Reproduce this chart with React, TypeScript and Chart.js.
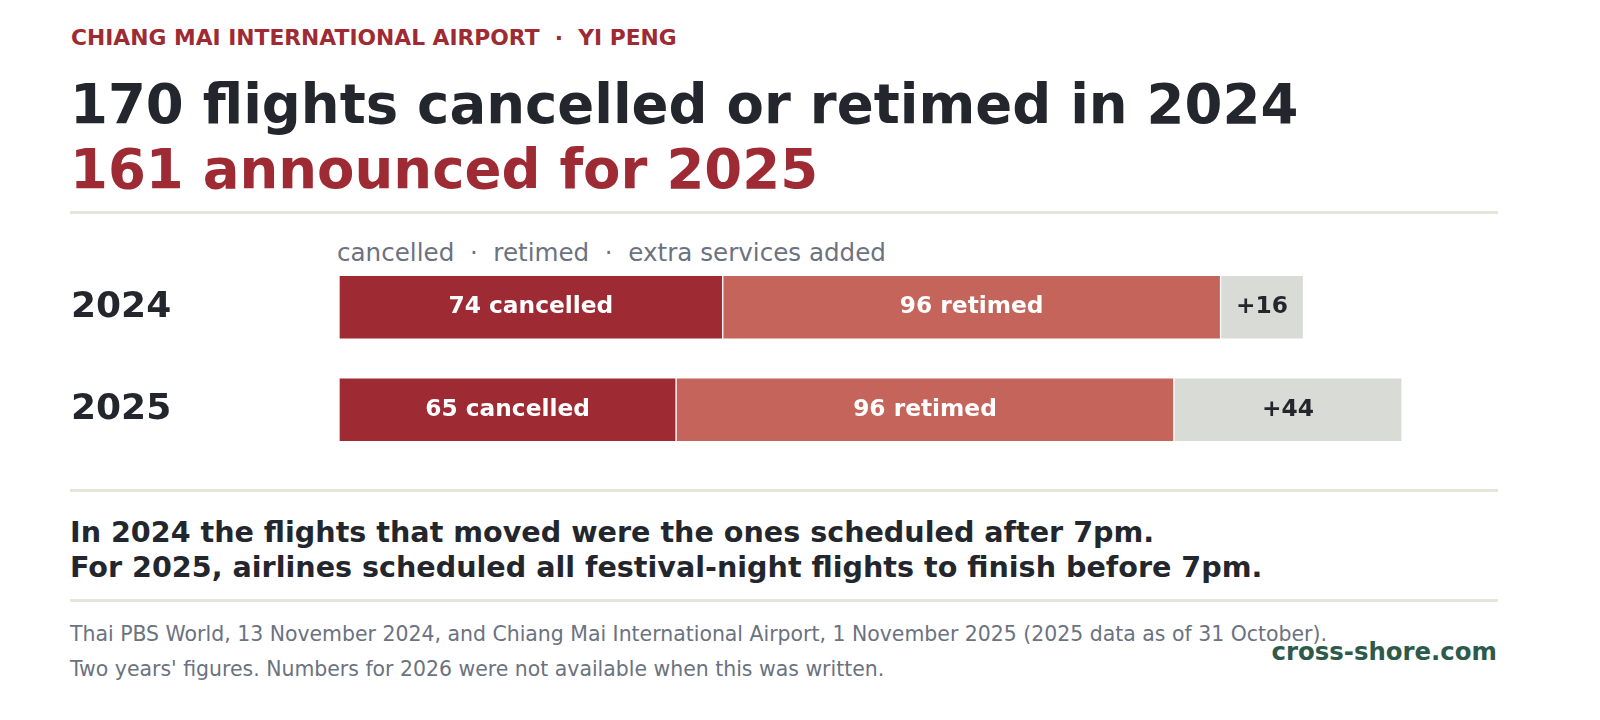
import { useEffect, useRef } from "react";
import { Chart, registerables } from "chart.js";

Chart.register(...registerables);

const YEARS = ["2024", "2025"];
const CANCELLED = [74, 65];
const RETIMED = [96, 96];
const EXTRA = [16, 44];
const X_MAX = 223.5;

const FONT = "'DejaVu Sans', Verdana, sans-serif";
const DARK = "#23272d";
const RED = "#9e2a33";
const GREY = "#6b7280";

const segmentLabels = {
  id: "segmentLabels",
  afterDatasetsDraw(chart: Chart) {
    const { ctx } = chart;
    ctx.save();
    ctx.font = `bold 23.3px ${FONT}`;
    ctx.textAlign = "center";
    ctx.textBaseline = "middle";
    chart.data.datasets.forEach((ds: any, di: number) => {
      const meta = chart.getDatasetMeta(di);
      meta.data.forEach((bar: any, i: number) => {
        const v = ds.data[i] as number;
        let text = "";
        if (di === 0) text = `${v} cancelled`;
        else if (di === 1) text = `${v} retimed`;
        else text = `+${v}`;
        ctx.fillStyle = di === 2 ? DARK : "#ffffff";
        ctx.fillText(text, (bar.x + bar.base) / 2, bar.y);
      });
    });
    ctx.restore();
  },
};

function FlightsChart() {
  const canvasRef = useRef<HTMLCanvasElement>(null);

  useEffect(() => {
    if (!canvasRef.current) return;
    const ctx = canvasRef.current.getContext("2d");
    if (!ctx) return;

    const common = {
      borderColor: "#ffffff",
      borderWidth: 1,
      borderSkipped: false as const,
      barThickness: 64,
    };

    const chart = new Chart(ctx, {
      type: "bar",
      data: {
        labels: YEARS,
        datasets: [
          { label: "cancelled", data: CANCELLED, backgroundColor: "#9e2a33", ...common },
          { label: "retimed", data: RETIMED, backgroundColor: "#c4645b", ...common },
          { label: "extra services added", data: EXTRA, backgroundColor: "#d9dbd6", ...common },
        ],
      },
      options: {
        indexAxis: "y",
        animation: false,
        responsive: true,
        maintainAspectRatio: false,
        layout: { padding: 0 },
        plugins: {
          legend: { display: false },
          tooltip: { enabled: false },
        },
        scales: {
          x: {
            stacked: true,
            display: false,
            min: 0,
            max: X_MAX,
          },
          y: {
            stacked: true,
            grid: { display: false },
            border: { display: false },
            ticks: {
              crossAlign: "far",
              padding: 0,
              color: DARK,
              font: { family: FONT, size: 36, weight: "bold" },
            },
            afterFit(scale: any) {
              scale.width = 268;
              scale.paddingTop = 0;
              scale.paddingBottom = 0;
            },
          },
        },
      },
      plugins: [segmentLabels],
    });

    return () => {
      chart.destroy();
    };
  }, []);

  return (
    <div style={{ position: "absolute", left: 71, top: 256, width: 1427, height: 205 }}>
      <canvas ref={canvasRef}></canvas>
    </div>
  );
}

const rule = (top: number) => (
  <div
    style={{
      position: "absolute",
      left: 70,
      top,
      width: 1428,
      height: 3,
      background: "#e6e5dc",
    }}
  />
);

export default function App() {
  return (
    <div
      style={{
        position: "absolute",
        left: 0,
        top: 0,
        width: 1600,
        height: 720,
        background: "#ffffff",
        fontFamily: FONT,
        overflow: "hidden",
      }}
    >
      <div
        style={{
          position: "absolute",
          left: 71,
          top: 26,
          fontSize: 21.8,
          lineHeight: "24px",
          fontWeight: "bold",
          color: RED,
          whiteSpace: "pre",
        }}
      >
        CHIANG MAI INTERNATIONAL AIRPORT  ·  YI PENG
      </div>
      <div
        style={{
          position: "absolute",
          left: 70,
          top: 72,
          fontSize: 54.5,
          lineHeight: "65px",
          fontWeight: "bold",
          color: DARK,
          whiteSpace: "pre",
        }}
      >
        <div>170 flights cancelled or retimed in 2024</div>
        <div style={{ color: RED }}>161 announced for 2025</div>
      </div>
      {rule(211)}
      <div
        style={{
          position: "absolute",
          left: 337,
          top: 238,
          fontSize: 24.6,
          lineHeight: "30px",
          color: GREY,
          whiteSpace: "pre",
        }}
      >
        cancelled  ·  retimed  ·  extra services added
      </div>
      <FlightsChart />
      {rule(489)}
      <div
        style={{
          position: "absolute",
          left: 70,
          top: 515,
          fontSize: 28.6,
          lineHeight: "35px",
          fontWeight: "bold",
          color: DARK,
          whiteSpace: "pre",
        }}
      >
        <div>In 2024 the flights that moved were the ones scheduled after 7pm.</div>
        <div>For 2025, airlines scheduled all festival-night flights to finish before 7pm.</div>
      </div>
      {rule(599)}
      <div
        style={{
          position: "absolute",
          left: 70,
          top: 617,
          fontSize: 20.45,
          lineHeight: "35px",
          color: GREY,
          whiteSpace: "pre",
        }}
      >
        <div>
          Thai PBS World, 13 November 2024, and Chiang Mai International Airport, 1 November 2025 (2025 data as of 31 October).
        </div>
        <div>Two years' figures. Numbers for 2026 were not available when this was written.</div>
      </div>
      <div
        style={{
          position: "absolute",
          right: 103,
          top: 637,
          fontSize: 24.4,
          lineHeight: "30px",
          fontWeight: "bold",
          color: "#2d5a4a",
          whiteSpace: "pre",
        }}
      >
        cross-shore.com
      </div>
    </div>
  );
}
